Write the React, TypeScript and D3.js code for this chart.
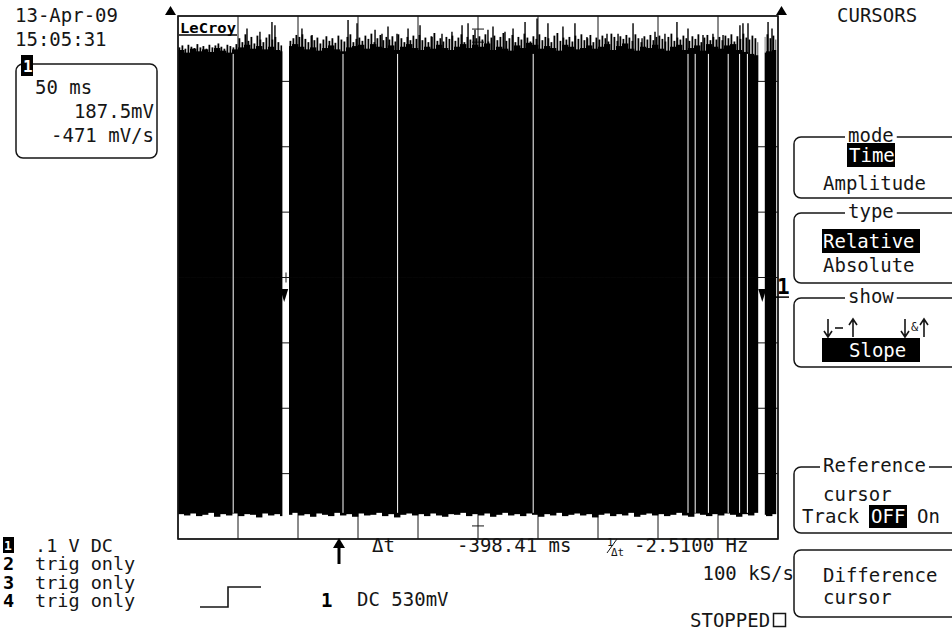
import React from "react";
import * as d3 from "d3";

// time axis: 10 div x 50 ms, amplitude: 8 div x 100 mV
const TIME_TICKS = d3.range(0, 501, 50);
const VOLT_TICKS = d3.range(-400, 401, 100);

// solid body of the burst, upper edge, one value per 5 ms (mV)
const TOP_ENV = [
  348, 344, 350, 346, 349, 345, 351, 347, 344, 349,
  352, 356, 350, 354, 349, 353, 348, 346, 354, 357,
  353, 349, 352, 347, 351, 355, 349, 346, 352, 354,
  356, 350, 357, 353, 351, 355, 348, 353, 357, 351,
  348, 353, 350, 356, 351, 348, 353, 357, 351, 356,
  353, 358, 348, 353, 350, 347, 355, 351, 359, 356,
  350, 354, 351, 347, 356, 353, 349, 351, 355, 350,
  353, 357, 348, 354, 358, 350, 347, 353, 351, 356,
  350, 347, 353, 356, 348, 351, 355, 347, 357, 353,
  350, 355, 357, 348, 345, 342, 340, 344, 346, 348,
];

// fine noise comb above the body, one bar per 2.5 ms (mV)
const COMB = [
  352, 355, 350, 356, 353, 351, 357, 352, 354, 350,
  356, 352, 355, 358, 353, 350, 356, 354, 352, 357,
  366, 360, 372, 362, 368, 358, 370, 364, 360, 367,
  372, 364, 368, 360, 355, 350, 362, 362, 366, 371,
  368, 372, 365, 360, 370, 363, 367, 358, 364, 369,
  362, 366, 359, 370, 364, 361, 368, 372, 360, 365,
  367, 362, 370, 365, 373, 360, 366, 371, 363, 368,
  364, 369, 361, 372, 366, 360, 368, 363, 370, 365,
  371, 363, 367, 360, 369, 374, 362, 366, 361, 368,
  365, 370, 362, 367, 372, 360, 368, 364, 371, 366,
  369, 364, 372, 361, 367, 370, 363, 368, 374, 362,
  366, 371, 360, 368, 364, 373, 367, 361, 369, 365,
  372, 363, 368, 366, 360, 370, 374, 362, 367, 364,
  368, 361, 370, 365, 372, 363, 366, 371, 360, 367,
  364, 370, 366, 361, 373, 368, 362, 369, 365, 371,
  367, 362, 372, 366, 360, 369, 364, 371, 363, 368,
  370, 365, 361, 368, 373, 362, 367, 364, 370, 366,
  362, 369, 365, 372, 360, 367, 371, 363, 368, 364,
  368, 363, 370, 366, 372, 361, 369, 365, 373, 367,
  364, 370, 366, 360, 365, 368, 372, 366, 370, 364,
];

// lower edge of the burst, one value per 5 ms (mV)
const BOTTOM_ENV = [
  -362, -364, -361, -365, -363, -360, -366, -362, -364, -361,
  -365, -362, -363, -367, -361, -364, -362, -365, -363, -360,
  -364, -362, -366, -361, -363, -365, -360, -364, -362, -366,
  -361, -364, -363, -360, -365, -362, -367, -363, -361, -364,
  -362, -365, -361, -364, -366, -362, -363, -360, -365, -362,
  -364, -361, -366, -363, -360, -364, -362, -365, -361, -363,
  -366, -362, -364, -360, -365, -363, -361, -364, -362, -367,
  -363, -361, -365, -362, -364, -360, -366, -363, -361, -364,
  -362, -365, -363, -360, -364, -366, -361, -363, -365, -362,
  -364, -361, -363, -366, -362, -364, -360, -363, -365, -362,
];

// tall single spikes [ms, mV]
const SPIKES: [number, number][] = [
  [57.5, 381], [68.3, 376], [78.3, 391], [80.8, 386], [103.3, 381], [111.7, 371],
  [141.7, 394], [149.2, 389], [164.2, 379], [170, 373], [175, 384], [182.5, 373],
  [191.7, 381], [201.7, 386], [211.7, 368], [220, 373], [228.3, 376], [236.7, 386],
  [241.7, 389], [247.5, 379], [258.3, 379], [262.5, 384], [272.5, 376], [279.2, 381],
  [289.2, 391], [299.2, 396], [308.3, 389], [320.8, 384], [330.8, 389], [340.8, 368],
  [357.5, 373], [366.7, 373], [379.2, 389], [386.7, 366], [397.5, 376], [405.8, 373],
  [415.8, 391], [425, 381], [437.5, 371], [445.8, 373], [454.2, 371], [468.3, 386],
  [470.8, 389], [475, 389], [491.7, 391], [495, 381],
];

// short signal dropouts (ms)
const DROPOUTS = [46, 137.5, 183, 296, 425, 431, 442, 458.5, 468, 474.5];
// wider gaps in the record (ms)
const GAPS: [number, number][] = [[87, 92.5], [483.5, 489]];
const TRACE_END = 498.5;
// cursor positions (ms): difference, reference
const CURSOR_T = [88.5, 486.9];
const CH_OFFSET = -30;

const MONO = "DejaVu Sans Mono";
const INK = "#161616";

const x = d3.scaleLinear().domain([0, 500]).range([178, 778]);
const y = d3.scaleLinear().domain([-400, 400]).range([539, 16]);

function segments() {
  const out: [number, number][] = [];
  let s = 0;
  GAPS.forEach(([a, b]) => {
    out.push([s, a]);
    s = b;
  });
  out.push([s, TRACE_END]);
  return out;
}

const T = (props: any) => (
  <text fontFamily={MONO} fontSize={19} fill={INK} {...props} />
);

function MenuBox({ top, bottom, title, titleX }: any) {
  return (
    <g>
      <rect x={794} y={top} width={220} height={bottom - top} rx={7}
        fill="none" stroke={INK} strokeWidth={1.5} />
      {title && (
        <>
          <rect x={titleX - 3} y={top - 4} width={title.length * 11.44 + 6} height={8} fill="#fff" />
          <T x={titleX} y={top + 5}>{title}</T>
        </>
      )}
    </g>
  );
}

function Inverse({ x0, y0, w, h, label, tx }: any) {
  return (
    <g>
      <rect x={x0} y={y0} width={w} height={h} fill="#000" />
      <T x={tx} y={y0 + h - 5} fill="#fff">{label}</T>
    </g>
  );
}

// thin arrow glyph like the scope font
function Arrow({ cx, up }: any) {
  const top = 319, bot = 337;
  return up ? (
    <path d={`M${cx},${bot} V${top} M${cx - 4},${top + 6} L${cx},${top} L${cx + 4},${top + 6}`}
      fill="none" stroke={INK} strokeWidth={1.6} />
  ) : (
    <path d={`M${cx},${top} V${bot} M${cx - 4},${bot - 6} L${cx},${bot} L${cx + 4},${bot - 6}`}
      fill="none" stroke={INK} strokeWidth={1.6} />
  );
}

export default function App() {
  const colW5 = x(5) - x(0);
  const segs = segments();

  return (
    <svg width={952} height={631} viewBox="0 0 952 631"
      style={{ position: "absolute", left: 0, top: 0, background: "#fff" }}>
      <defs>
        <clipPath id="trace-clip">
          {segs.map(([a, b], i) => (
            <rect key={i} x={x(a)} y={0} width={x(b) - x(a)} height={631} />
          ))}
        </clipPath>
      </defs>

      {/* grid (under the trace) */}
      <g stroke={INK} strokeWidth={1}>
        {TIME_TICKS.map((t) => (
          <line key={"gx" + t} x1={x(t)} x2={x(t)} y1={y(400)} y2={y(-400)} />
        ))}
        {VOLT_TICKS.map((v) => (
          <line key={"gy" + v} x1={x(0)} x2={x(500)} y1={y(v)} y2={y(v)} />
        ))}
        {d3.range(-380, 381, 20).map((v) => (
          <line key={"mv" + v} x1={x(250) - 6} x2={x(250) + 6} y1={y(v)} y2={y(v)} />
        ))}
        {d3.range(10, 500, 10).map((t) => (
          <line key={"mt" + t} x1={x(t)} x2={x(t)} y1={y(0) - 5} y2={y(0) + 5} />
        ))}
      </g>

      {/* trace */}
      <g clipPath="url(#trace-clip)" fill="#000">
        {TOP_ENV.map((v, i) => (
          <rect key={"t" + i} x={x(i * 5)} y={y(v)} width={colW5 + 0.4} height={y(0) - y(v)} />
        ))}
        {COMB.map((v, i) => (
          <rect key={"c" + i} x={x(i * 2.5) + 0.5} y={y(v)} width={1.8} height={y(300) - y(v)} />
        ))}
        {BOTTOM_ENV.map((v, i) => (
          <rect key={"b" + i} x={x(i * 5)} y={y(0)} width={colW5 + 0.4} height={y(v) - y(0)} />
        ))}
        {SPIKES.map(([t, v], i) => (
          <line key={"s" + i} x1={x(t)} x2={x(t)} y1={y(v)} y2={y(300)} stroke="#000" strokeWidth={1.4} />
        ))}
        {DROPOUTS.map((t, i) => (
          <line key={"d" + i} x1={x(t)} x2={x(t)} y1={y(342)} y2={y(-360)} stroke="#fff" strokeWidth={1} />
        ))}
      </g>

      {/* outer frame */}
      <rect x={x(0)} y={y(400)} width={x(500) - x(0)} height={y(-400) - y(400)}
        fill="none" stroke={INK} strokeWidth={1.6} />

      {/* cursors */}
      {CURSOR_T.map((t, i) => (
        <path key={"cur" + i}
          d={`M${x(t) - 4},${y(CH_OFFSET) - 8} L${x(t) + 4},${y(CH_OFFSET) - 8} L${x(t)},${y(CH_OFFSET) + 5} Z`}
          fill="#000" />
      ))}

      {/* logo */}
      <rect x={179} y={17} width={58} height={20} fill="#fff" />
      <text x={180} y={33} fontFamily={MONO} fontWeight="bold" fontSize={14}
        textLength={56} lengthAdjust="spacingAndGlyphs" fill="#000">LeCroy</text>
      <line x1={179} x2={237} y1={35} y2={35} stroke="#000" strokeWidth={1.5} />

      {/* trigger/position markers */}
      <path d="M165,15 L170.5,6 L176,15 Z" fill="#000" />
      <path d="M776,15 L781.5,6 L787,15 Z" fill="#000" />

      {/* channel marker */}
      <text x={777} y={y(CH_OFFSET) - 3} fontFamily={MONO} fontWeight="bold" fontSize={21} fill="#000">1</text>
      <line x1={772} x2={789} y1={y(CH_OFFSET)} y2={y(CH_OFFSET)} stroke="#000" strokeWidth={1.5} />

      {/* top-left info */}
      <T x={15} y={22}>13-Apr-09</T>
      <T x={15} y={46}>15:05:31</T>
      <rect x={16} y={64} width={141} height={94} rx={7} fill="none" stroke={INK} strokeWidth={1.5} />
      <rect x={21} y={55} width={12} height={21} fill="#000" />
      <text x={23} y={72} fontFamily={MONO} fontSize={16} fontWeight="bold" fill="#fff">1</text>
      <T x={35} y={94}>50 ms</T>
      <T x={154} y={118} textAnchor="end">187.5mV</T>
      <T x={154} y={142} textAnchor="end">-471 mV/s</T>

      {/* bottom-left channel list */}
      <rect x={3} y={537} width={11} height={16} fill="#000" />
      <text x={4} y={550} fontFamily={MONO} fontSize={13} fontWeight="bold" fill="#fff">1</text>
      <T x={35} y={552} fontSize={18.5}>.1  V  DC</T>
      {["2", "3", "4"].map((c, i) => (
        <g key={c}>
          <text x={3} y={570 + i * 18.5} fontFamily={MONO} fontWeight="bold" fontSize={18.5} fill="#000">{c}</text>
          <T x={35} y={570 + i * 18.5} fontSize={18.5}>trig only</T>
        </g>
      ))}

      {/* trigger step icon */}
      <path d="M200,607 H228 V587 H261" fill="none" stroke={INK} strokeWidth={1.6} />

      {/* bottom readouts */}
      <line x1={339} x2={339} y1={564} y2={546} stroke="#000" strokeWidth={3} />
      <path d="M333,548 L339,538 L345,548 Z" fill="#000" />
      <T x={372} y={552}>Δt</T>
      <T x={457} y={552}>-398.41 ms</T>
      <text x={607} y={546} fontFamily={MONO} fontSize={11} fill={INK}>1</text>
      <line x1={607} x2={617} y1={553} y2={539} stroke={INK} strokeWidth={1} />
      <text x={611} y={556} fontFamily={MONO} fontSize={11} fill={INK}>Δt</text>
      <T x={634} y={552}>-2.5100 Hz</T>
      <T x={794} y={580} textAnchor="end">100 kS/s</T>
      <text x={321} y={607} fontFamily={MONO} fontWeight="bold" fontSize={19} fill="#000">1</text>
      <T x={357} y={606}>DC 530mV</T>
      <T x={690} y={627}>STOPPED</T>
      <rect x={773.5} y={613.5} width={12} height={13} fill="none" stroke={INK} strokeWidth={1.5} />

      {/* right menu */}
      <T x={837} y={22}>CURSORS</T>

      <MenuBox top={137} bottom={198} title="mode" titleX={848} />
      <Inverse x0={847} y0={143} w={48} h={24} label="Time" tx={849} />
      <T x={823} y={190}>Amplitude</T>

      <MenuBox top={213} bottom={283} title="type" titleX={848} />
      <Inverse x0={822} y0={229} w={98} h={24} label="Relative" tx={823} />
      <T x={823} y={272}>Absolute</T>

      <MenuBox top={298} bottom={367} title="show" titleX={848} />
      <Arrow cx={828} up={false} />
      <line x1={835} x2={843} y1={328} y2={328} stroke={INK} strokeWidth={1.6} />
      <Arrow cx={853} up={true} />
      <Arrow cx={905} up={false} />
      <text x={911} y={331} fontFamily={MONO} fontSize={12} fill={INK}>&amp;</text>
      <Arrow cx={924} up={true} />
      <Inverse x0={822} y0={338} w={98} h={24} label="Slope" tx={849} />

      <MenuBox top={467} bottom={533} title="Reference" titleX={823} />
      <T x={823} y={501}>cursor</T>
      <T x={802} y={523}>Track</T>
      <Inverse x0={869} y0={505} w={38} h={23} label="OFF" tx={871} />
      <T x={917} y={523}>On</T>

      <MenuBox top={550} bottom={617} />
      <T x={823} y={582}>Difference</T>
      <T x={823} y={604}>cursor</T>
    </svg>
  );
}
